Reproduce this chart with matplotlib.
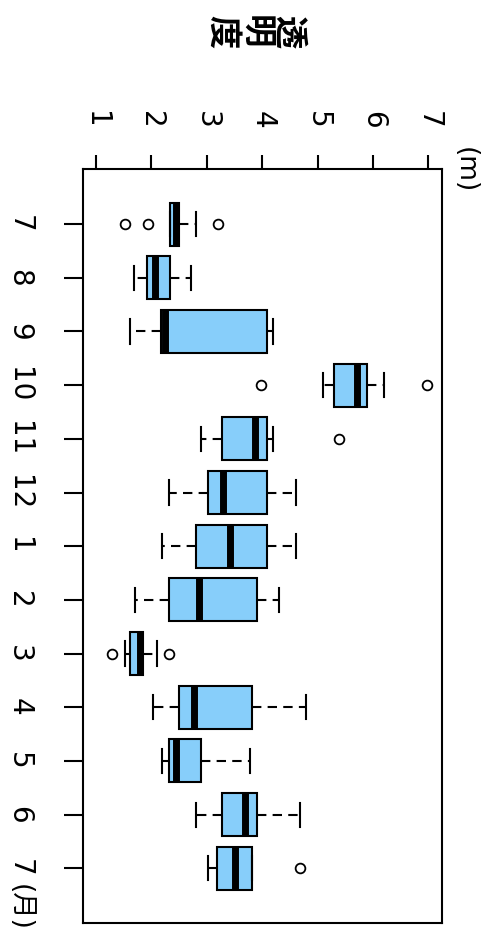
import matplotlib
matplotlib.use('Agg')
import matplotlib.pyplot as plt

plt.rcParams['font.family'] = ['DejaVu Sans', 'Noto Sans CJK JP']

months = ['7', '8', '9', '10', '11', '12', '1', '2', '3', '4', '5', '6', '7']
whislo = [2.34, 1.69, 1.61, 5.09, 2.89, 2.32, 2.19, 1.70, 1.52, 2.02, 2.19, 2.80, 3.02]
q1 = [2.34, 1.92, 2.18, 5.30, 3.28, 3.02, 2.80, 2.32, 1.61, 2.49, 2.31, 3.28, 3.19]
med = [2.44, 2.07, 2.25, 5.71, 3.87, 3.29, 3.41, 2.85, 1.79, 2.76, 2.44, 3.69, 3.51]
q3 = [2.50, 2.34, 4.08, 5.89, 4.08, 4.08, 4.08, 3.91, 1.84, 3.82, 2.90, 3.91, 3.82]
whishi = [2.80, 2.71, 4.20, 6.19, 4.20, 4.61, 4.61, 4.30, 2.10, 4.79, 3.78, 4.69, 3.82]
fliers = [[1.52, 1.93, 3.21], [], [], [3.98, 6.97], [5.39], [], [], [],
          [1.29, 2.32], [], [], [], [4.69]]

stats = []
for i in range(len(months)):
    stats.append(dict(whislo=whislo[i], q1=q1[i], med=med[i], q3=q3[i],
                      whishi=whishi[i], fliers=fliers[i]))

fig = plt.figure(figsize=(4.86, 9.43), dpi=100)
ax = fig.add_axes([0.1714, 0.0212, 0.7374, 0.7992])

ax.bxp(stats, positions=range(1, len(months) + 1), orientation='horizontal',
       widths=0.8, capwidths=0.45, patch_artist=True,
       boxprops=dict(facecolor='#87CEFA', edgecolor='black', linewidth=1.5),
       medianprops=dict(color='black', linewidth=5, solid_capstyle='butt'),
       whiskerprops=dict(color='black', linewidth=1.5, linestyle=(0, (4.5, 3))),
       capprops=dict(color='black', linewidth=1.5),
       flierprops=dict(marker='o', markerfacecolor='none', markeredgecolor='black',
                       markersize=7, markeredgewidth=1.3))

ax.set_xlim(0.77, 7.24)
ax.set_ylim(14.02, -0.02)

ax.xaxis.tick_top()
ax.set_xticks(range(1, 8))
ax.set_xticklabels([str(v) for v in range(1, 8)], rotation=-90, fontsize=20)
ax.set_yticks(range(1, len(months) + 1))
ax.set_yticklabels(months, rotation=-90, fontsize=20, va='center')
ax.tick_params(axis='x', length=10, width=1.5, pad=19)
ax.tick_params(axis='y', length=14, width=1.5, pad=22)
for s in ax.spines.values():
    s.set_linewidth(1.5)

fig.text(255 / 486, 1 - 32 / 943, '透\n明\n度', rotation=-90, ha='center', va='center',
         fontsize=24, fontweight='bold', family=['Noto Sans CJK JP'], linespacing=1.0)
fig.text(465 / 486, 1 - 170 / 943, '(m)', rotation=-90, ha='center', va='center', fontsize=19)
fig.text(20 / 486, 1 - 907 / 943, '(月)', rotation=-90, ha='center', va='center', fontsize=19)

fig.savefig('out.png', dpi=100)
